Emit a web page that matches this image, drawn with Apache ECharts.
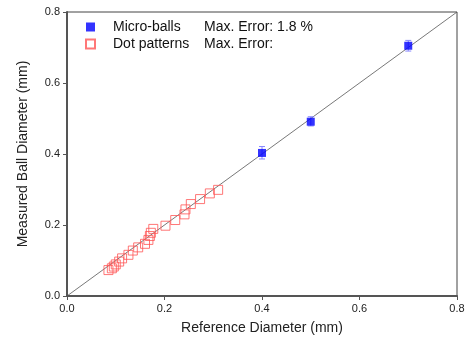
<!DOCTYPE html>
<html><head><meta charset="utf-8">
<script src="https://cdn.jsdelivr.net/npm/echarts@6/dist/echarts.min.js"></script>
<style>html,body{margin:0;padding:0;background:#fff}#c{width:468px;height:345px}</style>
</head><body><div id="c"></div>
<script>
const ballRef = [0.4, 0.5, 0.7];
const ballMeas = [0.403, 0.491, 0.705];
const ballLow = [0.386, 0.479, 0.690];
const ballHigh = [0.421, 0.505, 0.720];
const dotRef = [0.085, 0.092, 0.096, 0.100, 0.107, 0.113, 0.126, 0.135, 0.146, 0.160, 0.167, 0.170, 0.172, 0.177, 0.202, 0.222, 0.241, 0.243, 0.254, 0.273, 0.293, 0.310];
const dotMeas = [0.073, 0.078, 0.083, 0.089, 0.097, 0.106, 0.116, 0.128, 0.137, 0.147, 0.158, 0.169, 0.178, 0.189, 0.198, 0.214, 0.230, 0.244, 0.259, 0.273, 0.289, 0.299];
const lineX = [0, 0.8];
const ticks = [0, 0.2, 0.4, 0.6, 0.8];
const legendNotes = {'Micro-balls': 'Max. Error: 1.8 %', 'Dot patterns': 'Max. Error:'};

const chart = echarts.init(document.getElementById('c'), null, {renderer: 'canvas'});
const font = 'Liberation Sans, Arial, sans-serif';
const axisCommon = {
  min: 0, max: 0.8, interval: 0.2,
  axisLine: {show: true, lineStyle: {color: '#555', width: 2}},
  axisTick: {show: true, inside: false, length: 4, lineStyle: {color: '#555', width: 1}},
  splitLine: {show: false},
  axisLabel: {color: '#222', fontSize: 11, fontFamily: font, formatter: v => v.toFixed(1)},
  nameTextStyle: {color: '#222', fontSize: 14, fontFamily: font}
};
chart.setOption({
  animation: false,
  grid: {left: 67, right: 11, top: 12, bottom: 49, show: true, borderColor: '#444', borderWidth: 1},
  xAxis: Object.assign({}, axisCommon, {type: 'value', name: 'Reference Diameter (mm)', nameLocation: 'middle', nameGap: 25,
    axisLabel: Object.assign({}, axisCommon.axisLabel, {margin: 7})}),
  yAxis: Object.assign({}, axisCommon, {type: 'value', name: 'Measured Ball Diameter (mm)', nameLocation: 'middle', nameGap: 37,
    axisLabel: Object.assign({}, axisCommon.axisLabel, {margin: 7})}),
  legend: {
    orient: 'vertical', left: 80, top: 15, itemGap: 3, itemWidth: 9, itemHeight: 9,
    data: [{name: 'Micro-balls', icon: 'rect'}, {name: 'Dot patterns', icon: 'rect'}],
    textStyle: {fontSize: 14, fontFamily: font, color: '#111',
      rich: {s: {width: 13}, n: {width: 91, fontSize: 14, fontFamily: font, color: '#111'}, e: {fontSize: 14, fontFamily: font, color: '#111'}}},
    formatter: name => '{s|}{n|' + name + '}{e|' + legendNotes[name] + '}'
  },
  series: [
    {type: 'line', data: lineX.map(v => [v, v]), symbol: 'none', lineStyle: {color: '#555', width: 0.8}, silent: true, z: 1},
    {type: 'custom', name: 'err', z: 2,
      data: ballRef.map((x, i) => [x, ballLow[i], ballHigh[i]]),
      renderItem: (params, api) => {
        const lo = api.coord([api.value(0), api.value(1)]);
        const hi = api.coord([api.value(0), api.value(2)]);
        const w = 3;
        const st = {stroke: '#8888ff', lineWidth: 1};
        return {type: 'group', children: [
          {type: 'line', shape: {x1: lo[0], y1: lo[1], x2: hi[0], y2: hi[1]}, style: st},
          {type: 'line', shape: {x1: lo[0] - w, y1: lo[1], x2: lo[0] + w, y2: lo[1]}, style: st},
          {type: 'line', shape: {x1: hi[0] - w, y1: hi[1], x2: hi[0] + w, y2: hi[1]}, style: st}
        ]};
      }
    },
    {type: 'scatter', name: 'Micro-balls', data: ballRef.map((x, i) => [x, ballMeas[i]]), symbol: 'rect', symbolSize: 8,
      itemStyle: {color: '#0000ff'}, z: 3},
    {type: 'scatter', name: 'Dot patterns', data: dotRef.map((x, i) => [x, dotMeas[i]]), symbol: 'rect', symbolSize: 9,
      itemStyle: {color: 'rgba(255,255,255,0)', borderColor: '#ff5555', borderWidth: 1}, z: 3}
  ]
});
</script></body></html>
